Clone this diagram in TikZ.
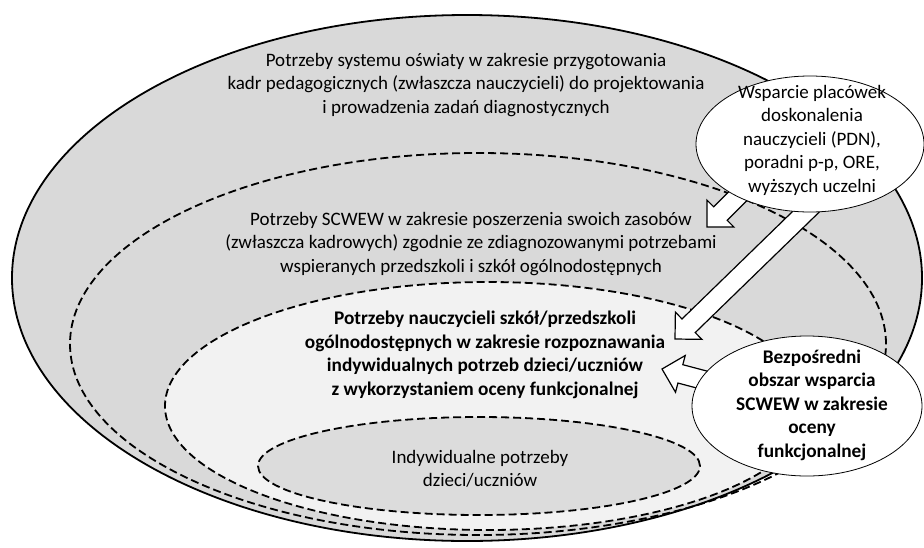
\documentclass[tikz,border=0pt]{standalone}
\usepackage{fontspec}
\setmainfont{Carlito}
\usetikzlibrary{shapes.geometric,calc}
\pgfdeclarelayer{back}
\pgfdeclarelayer{mid}
\pgfsetlayers{back,mid,main}
\definecolor{outergray}{HTML}{D9D9D9}
\definecolor{lightfill}{HTML}{F2F2F2}
\definecolor{innergray}{HTML}{DCDCDC}
\tikzset{
  ring/.style={ellipse, inner sep=0pt, line width=1.8pt},
  dashring/.style={ring, dash pattern=on 8pt off 4pt},
  bubble/.style={ellipse, inner sep=0pt, draw=black, line width=0.8pt, fill=white},
  lbl/.style={align=center, inner sep=0pt, font={\fontsize{19}{23.5}\selectfont}},
  blbl/.style={lbl, font={\fontsize{19.3}{23.5}\selectfont\bfseries}},
  blockarrow/.style={draw=black, fill=white, line width=1.2pt, line join=miter},
}
\newcommand\blockarr[2]{%
  \draw[blockarrow] let \p1=(#1), \p2=(#2),
    \n1={atan2(\y2-\y1,\x2-\x1)}, \n2={veclen(\x2-\x1,\y2-\y1)} in
    [shift={(\p1)}, rotate=\n1]
    (0pt,-9.5pt) -- ({\n2-19pt},-9.5pt) -- ({\n2-19pt},-19pt) -- (\n2,0pt)
    -- ({\n2-19pt},19pt) -- ({\n2-19pt},9.5pt) -- (0pt,9.5pt) -- cycle;}
\begin{document}
\begin{tikzpicture}[x=1pt,y=-1pt]
\useasboundingbox (0,0) rectangle (924,547);
\begin{pgfonlayer}{back}
\node[ring, draw=black, fill=outergray, minimum width=910pt, minimum height=526pt] (outer) at (467,278) {};
\node[dashring, draw=black, minimum width=816pt, minimum height=382pt] (scwew) at (478,344) {};
\node[dashring, draw=black, fill=lightfill, minimum width=646pt, minimum height=248pt] (teach) at (488,406) {};
\node[dashring, draw=black, fill=innergray, minimum width=442pt, minimum height=98pt] (child) at (479,466) {};
\end{pgfonlayer}

\node[lbl] (t1) at (466,85) {Potrzeby systemu oświaty w zakresie przygotowania\\kadr pedagogicznych (zwłaszcza nauczycieli) do projektowania\\i prowadzenia zadań diagnostycznych};
\node[lbl] (t2) at (471,244) {Potrzeby SCWEW w zakresie poszerzenia swoich zasobów\\(zwłaszcza kadrowych) zgodnie ze zdiagnozowanymi potrzebami\\wspieranych przedszkoli i szkół ogólnodostępnych};
\node[blbl] (t3) at (485,355) {Potrzeby nauczycieli szkół/przedszkoli\\ogólnodostępnych w zakresie rozpoznawania\\indywidualnych potrzeb dzieci/uczniów\\z wykorzystaniem oceny funkcjonalnej};
\node[lbl] (t4) at (480,469) {Indywidualne potrzeby\\dzieci/uczniów};

\node[bubble, minimum width=228pt, minimum height=136pt] (sup) at (810,144) {};
\node[lbl] (supt) at (812,140) {Wsparcie placówek\\doskonalenia\\nauczycieli (PDN),\\poradni p-p, ORE,\\wyższych uczelni};
\node[bubble, minimum width=230pt, minimum height=140pt] (bez) at (807,406) {};
\node[blbl] (bezt) at (812,405) {Bezpośredni\\obszar wsparcia\\SCWEW w zakresie\\oceny\\funkcjonalnej};

\coordinate (tipA) at (707,227);
\coordinate (tipB) at (675,339);
\coordinate (tipC) at (662,369);
\begin{pgfonlayer}{mid}
\blockarr{$(sup.center)+(-60,40)$}{tipA}
\blockarr{$(sup.center)+(8,56)$}{tipB}
\blockarr{$(bez.center)+(-77,-19)$}{tipC}
\end{pgfonlayer}
\end{tikzpicture}
\end{document}
